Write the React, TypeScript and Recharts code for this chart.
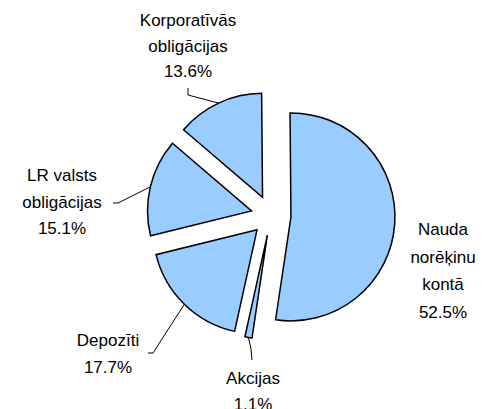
import React from "react";
import { Pie, PieChart, Sector } from "recharts";

// slices go clockwise from 12 o'clock
const categories = [
    "Nauda norēķinu kontā",
    "Akcijas",
    "Depozīti",
    "LR valsts obligācijas",
    "Korporatīvās obligācijas",
];
const shares = [52.5, 1.1, 17.7, 15.1, 13.6];
const labelLines = [
    ["Nauda", "norēķinu", "kontā"],
    ["Akcijas"],
    ["Depozīti"],
    ["LR valsts", "obligācijas"],
    ["Korporatīvās", "obligācijas"],
];

const data = categories.map((name, i) => ({ name, value: shares[i] }));

const RADIAN = Math.PI / 180;
const EXPLODE = 20;
const FILL = "#99CCFF";

// where Excel put each label: first line centre, line step, leader elbow points
const LABEL_LAYOUT = [
    { x: 443, y: 229, step: 27.5, leader: null },
    { x: 253, y: 378, step: 26, leader: [[251, 349], [252, 360]] },
    { x: 108, y: 340, step: 27, leader: [[153, 353], [148, 353]] },
    { x: 62, y: 175, step: 26.5, leader: [[118, 203], [113, 203]] },
    { x: 188, y: 20, step: 25.5, leader: [[188, 95], [188, 88]] },
];

const renderSlice = (props: any) => {
    const { cx, cy, innerRadius, outerRadius, startAngle, endAngle, midAngle, index } = props;
    const a = -midAngle * RADIAN;
    const ox = cx + EXPLODE * Math.cos(a);
    const oy = cy + EXPLODE * Math.sin(a);
    const layout = LABEL_LAYOUT[index];
    const lines = [...labelLines[index], `${shares[index].toFixed(1)}%`];

    let leader = null;
    if (layout.leader) {
        const ex = ox + outerRadius * Math.cos(a);
        const ey = oy + outerRadius * Math.sin(a);
        const pts = [[ex, ey], ...layout.leader].map((p) => p.join(",")).join(" ");
        leader = <polyline points={pts} fill="none" stroke="#000" strokeWidth={1} />;
    }

    return (
        <g key={`slice-${index}`}>
            <Sector
                cx={ox}
                cy={oy}
                innerRadius={innerRadius}
                outerRadius={outerRadius}
                startAngle={startAngle}
                endAngle={endAngle}
                fill={FILL}
                stroke="#000"
                strokeWidth={1.5}
            />
            {leader}
            <text
                x={layout.x}
                y={layout.y + 6}
                textAnchor="middle"
                fontFamily="'Liberation Sans', Arial, sans-serif"
                fontSize={17}
                fill="#000"
            >
                {lines.map((line, i) => (
                    <tspan key={i} x={layout.x} dy={i === 0 ? 0 : layout.step}>
                        {line}
                    </tspan>
                ))}
            </text>
        </g>
    );
};

const App = () => (
    <div style={{ position: "absolute", left: 0, top: 0, width: 483, height: 409, background: "#fff" }}>
        <PieChart width={483} height={409} margin={{ top: 0, right: 0, bottom: 0, left: 0 }}>
            <Pie
                data={data}
                dataKey="value"
                nameKey="name"
                cx={271}
                cy={215.5}
                innerRadius={0}
                outerRadius={104}
                startAngle={90.5}
                endAngle={-269.5}
                fill="none"
                stroke="none"
                label={renderSlice}
                labelLine={false}
                isAnimationActive={false}
            />
        </PieChart>
    </div>
);

export default App;
